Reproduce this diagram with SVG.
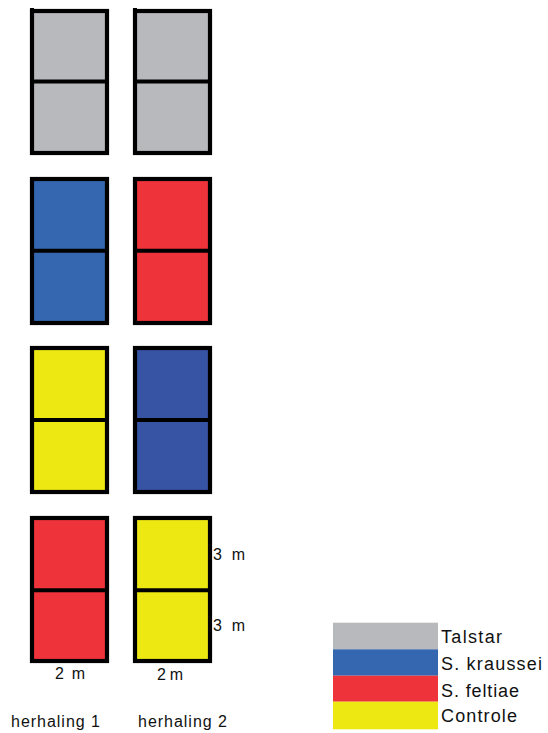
<svg xmlns="http://www.w3.org/2000/svg" width="548" height="733" viewBox="0 0 548 733">
<style>
.plot{stroke:#000;stroke-width:4.2}
.div{stroke:#000;stroke-width:4}
.t{font-family:"Liberation Sans",Arial,sans-serif;fill:#111}
.lbl{font-size:16px}
.leg{font-size:18px}
.gray{fill:#B8B9BD}.blue{fill:#3567B0}.red{fill:#EE333A}.yellow{fill:#EDE712}.dblue{fill:#3753A3}
</style>
<rect width="548" height="733" fill="#fff"/>
<g id="r1c1"><rect class="plot gray" x="32" y="11" width="75" height="142"/><line class="div" x1="32" y1="81.5" x2="107" y2="81.5"/><rect x="30" y="8" width="4" height="3"/></g>
<g id="r1c2"><rect class="plot gray" x="135" y="11" width="75" height="142"/><line class="div" x1="135" y1="81.5" x2="210" y2="81.5"/><rect x="133" y="8" width="4" height="3"/></g>
<g id="r2c1"><rect class="plot blue" x="32" y="179" width="75" height="144"/><line class="div" x1="32" y1="250.7" x2="107" y2="250.7"/></g>
<g id="r2c2"><rect class="plot red" x="135" y="179" width="75" height="144"/><line class="div" x1="135" y1="250.7" x2="210" y2="250.7"/></g>
<g id="r3c1"><rect class="plot yellow" x="32" y="348" width="75" height="144"/><line class="div" x1="32" y1="420" x2="107" y2="420"/></g>
<g id="r3c2"><rect class="plot dblue" x="135" y="348" width="75" height="144"/><line class="div" x1="135" y1="420" x2="210" y2="420"/></g>
<g id="r4c1"><rect class="plot red" x="32" y="518" width="75" height="143"/><line class="div" x1="32" y1="590.3" x2="107" y2="590.3"/></g>
<g id="r4c2"><rect class="plot yellow" x="135" y="518" width="75" height="143"/><line class="div" x1="135" y1="590.3" x2="210" y2="590.3"/></g>
<g id="connectors"></g>
<g id="dims">
<text class="t lbl" x="213" y="560" textLength="32" lengthAdjust="spacing">3 m</text>
<text class="t lbl" x="213" y="631" textLength="32" lengthAdjust="spacing">3 m</text>
<text class="t lbl" x="55" y="679" textLength="30" lengthAdjust="spacing">2 m</text>
<text class="t lbl" x="157" y="680" textLength="26" lengthAdjust="spacing">2m</text>
<text class="t lbl" x="11" y="727" textLength="89" lengthAdjust="spacing">herhaling 1</text>
<text class="t lbl" x="138" y="727" textLength="89" lengthAdjust="spacing">herhaling 2</text>
</g>
<g id="legend">
<rect class="gray" x="333" y="622.7" width="105" height="26.6"/>
<rect class="blue" x="333" y="649.3" width="105" height="26.4"/>
<rect class="red" x="333" y="675.7" width="105" height="26"/>
<rect class="yellow" x="333" y="701.7" width="105" height="27.6"/>
<text class="t leg" x="441" y="643" textLength="61" lengthAdjust="spacing">Talstar</text>
<text class="t leg" x="441" y="670" textLength="101" lengthAdjust="spacing">S. kraussei</text>
<text class="t leg" x="441" y="697" textLength="78" lengthAdjust="spacing">S. feltiae</text>
<text class="t leg" x="441" y="722" textLength="76" lengthAdjust="spacing">Controle</text>
</g>
</svg>
